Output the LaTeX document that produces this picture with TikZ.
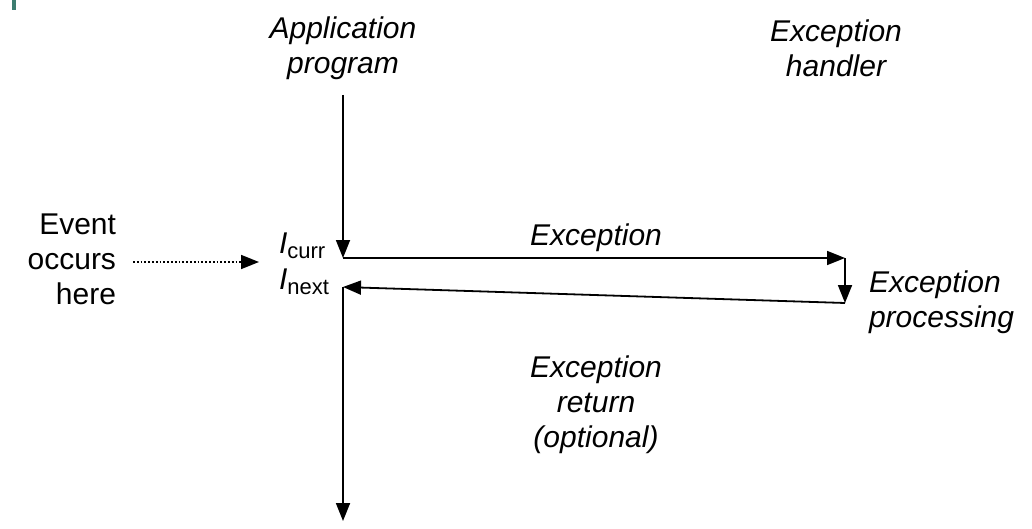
\documentclass[tikz,border=0pt]{standalone}
\usepackage{fontspec}
\setmainfont{Liberation Sans}
\usetikzlibrary{arrows.meta}
\begin{document}
\begin{tikzpicture}[x=1pt,y=-1pt,
  every node/.style={inner sep=0pt,outer sep=0pt,font=\fontsize{30}{35}\selectfont},
  lbl/.style={font=\fontsize{30}{35}\selectfont\itshape,align=center},
  conn/.style={line width=1.8pt,-{Triangle[length=18pt,width=14pt]}},
  dots/.style={line width=1.8pt,dotted,-{Triangle[length=18pt,width=14pt]}}]
\useasboundingbox (0,0) rectangle (1032,529);
\fill[fill={rgb,255:red,61;green,125;blue,112}] (12,0) rectangle (16,10);
% texts
\node[lbl] (app) at (343,48) {Application\\program};
\node[lbl] (hand) at (836,48) {Exception\\handler};
\node[align=right,anchor=east] (event) at (116,259) {Event\\occurs\\here};
\node[anchor=west] (icurr) at (279,246) {\textit{I}\raisebox{-0.35ex}{\upshape\fontsize{22}{24}\selectfont curr}};
\node[anchor=west] (inext) at (279,282) {\textit{I}\raisebox{-0.35ex}{\upshape\fontsize{22}{24}\selectfont next}};
\node[lbl] (exc) at (596,238) {Exception};
\node[lbl,align=left,anchor=west] (proc) at (869,302) {Exception\\processing};
\node[lbl] (ret) at (596,405) {Exception\\return\\(optional)};
% coordinates
\coordinate (top) at (343,95);
\coordinate (curr) at (343,258);
\coordinate (hcurr) at (845,258);
\coordinate (hend) at (845,303);
\coordinate (next) at (343,287);
\coordinate (bot) at (343,521);
\coordinate (ds) at (133,262);
\coordinate (de) at (259,262);
% connectors
\draw[conn] (top) -- (curr);
\draw[conn] (curr) -- (hcurr);
\draw[conn] (hcurr) -- (hend);
\draw[conn] (hend) -- (next);
\draw[conn] (next) -- (bot);
\draw[dots] (ds) -- (de);
\end{tikzpicture}
\end{document}
